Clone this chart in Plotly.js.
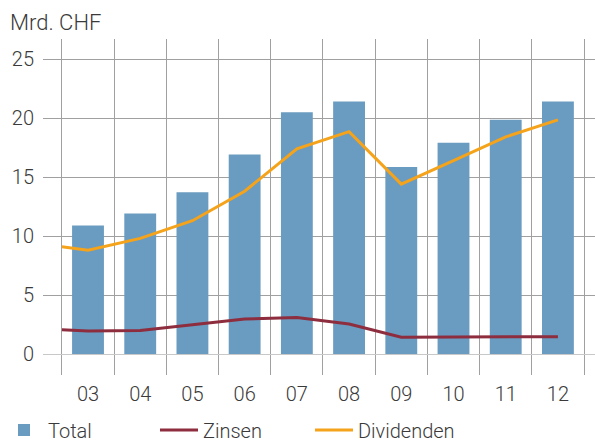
<!DOCTYPE html>
<html>
<head>
<meta charset="utf-8">
<script src="https://cdn.plot.ly/plotly-3.0.1.min.js"></script>
<style>html,body{margin:0;padding:0;background:#fff;}#chart{width:595px;height:442px;}</style>
</head>
<body>
<div id="chart"></div>
<script>
const years = ['03','04','05','06','07','08','09','10','11','12'];
const total = [10.9, 11.9, 13.7, 16.9, 20.5, 21.4, 15.85, 17.9, 19.85, 21.4];
const zinsen = [1.95, 2.0, 2.5, 2.97, 3.1, 2.54, 1.42, 1.42, 1.47, 1.47];
const dividenden = [8.8, 9.8, 11.3, 13.8, 17.4, 18.85, 14.4, 16.4, 18.4, 19.85];
// values at the start of the first period (left edge of 03)
const zinsenStart = 2.05;
const dividendenStart = 9.1;
const yTicks = [0, 5, 10, 15, 20, 25];

const idx = years.map((_, i) => i);
const lineX = [-0.5].concat(idx);
const bounds = [-0.5].concat(idx.map(i => i + 0.5));

const fontFam = 'Roboto, "Liberation Sans", Arial, sans-serif';
const txtCol = '#3a3a3a';
const xr = [-0.862, 9.71];

const data = [
  {type:'bar', name:'Total', x: idx, y: total, width: 0.61,
   marker:{color:'#6a9bc0'}, hoverinfo:'skip'},
  {type:'scatter', mode:'lines', name:'Zinsen', x: lineX, y: [zinsenStart].concat(zinsen),
   line:{color:'#8e2d3e', width:3}, hoverinfo:'skip'},
  {type:'scatter', mode:'lines', name:'Dividenden', x: lineX, y: [dividendenStart].concat(dividenden),
   line:{color:'#f5a31a', width:3}, hoverinfo:'skip'},
  {type:'scatter', mode:'markers', x:[0], y:[0], xaxis:'x2', showlegend:false,
   marker:{opacity:0}, hoverinfo:'skip'}
];

const layout = {
  width:595, height:442,
  margin:{l:43, r:0, t:39, b:67, pad:0},
  paper_bgcolor:'#fff', plot_bgcolor:'#fff',
  font:{family:fontFam, size:20, color:txtCol, weight:300},
  title:{text:'Mrd. CHF', x:10/595, xref:'container', xanchor:'left',
         y:1-15/442, yref:'container', yanchor:'top',
         font:{family:fontFam, size:22, color:txtCol, weight:300}},
  showlegend:true,
  legend:{orientation:'h', xref:'container', yref:'container', x:0, xanchor:'left',
          y:12/442, yanchor:'middle', itemwidth:38, entrywidth:102, entrywidthmode:'pixels',
          font:{family:fontFam, size:20, color:txtCol, weight:300}, bgcolor:'rgba(0,0,0,0)'},
  xaxis:{range:xr, tickmode:'array', tickvals: idx, ticktext: years,
         showgrid:false, zeroline:false, showline:false, ticks:'', ticklabelstandoff:5,
         fixedrange:true},
  xaxis2:{range:xr, overlaying:'x', tickmode:'array', tickvals: bounds,
          showgrid:true, gridcolor:'#a0a0a0', gridwidth:1, showticklabels:false,
          zeroline:false, showline:false, ticks:'', side:'bottom', fixedrange:true},
  yaxis:{range:[-1.78, 26.7], tickmode:'array', tickvals: yTicks,
         showgrid:true, gridcolor:'#a0a0a0', gridwidth:1,
         zeroline:true, zerolinecolor:'#c8c8c8', zerolinewidth:1,
         showline:false, ticks:'', ticklabelstandoff:8, fixedrange:true}
};

Plotly.newPlot('chart', data, layout, {displayModeBar:false, staticPlot:true});
</script>
</body>
</html>
